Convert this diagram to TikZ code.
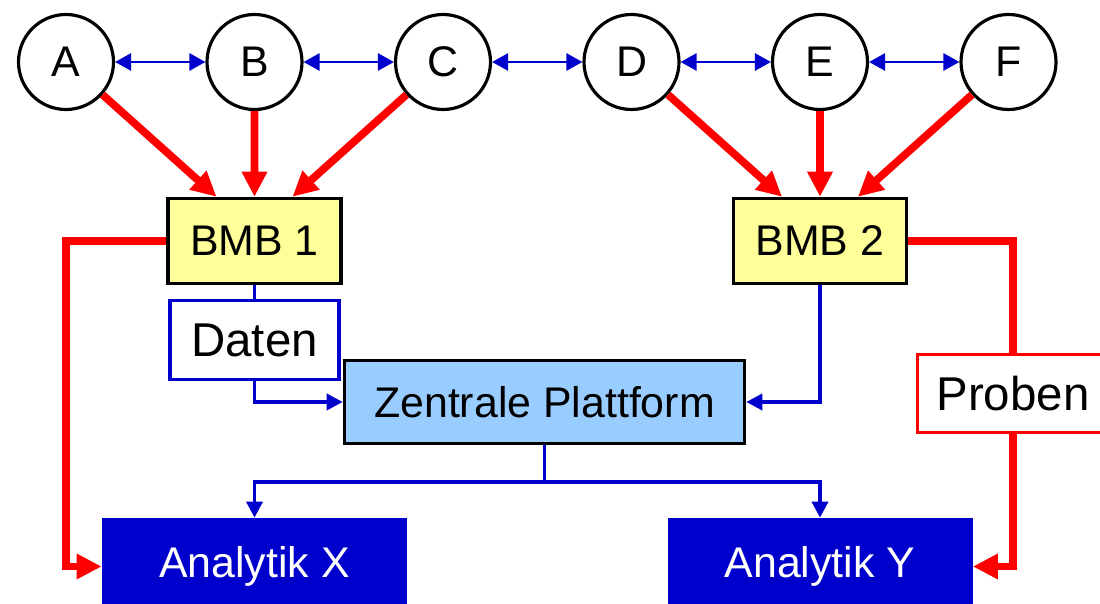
\documentclass[tikz,border=0pt]{standalone}
\usepackage{fontspec}
\setmainfont{Liberation Sans}
\usetikzlibrary{arrows.meta,scopes}

\definecolor{bmbyellow}{RGB}{255,255,153}
\definecolor{platblue}{RGB}{153,204,255}
\definecolor{darkblue}{RGB}{0,0,204}

\begin{document}
\begin{tikzpicture}[
    txt/.style={font=\fontsize{24.4}{28}\selectfont},
    bigtxt/.style={font=\fontsize{27}{32}\selectfont},
    site/.style={circle,draw=black,fill=white,line width=1.8pt,minimum size=1.9cm,inner sep=0,txt},
    bmb/.style={rectangle,draw=black,fill=bmbyellow,line width=2pt,minimum width=3.46cm,minimum height=1.7cm,txt},
    platform/.style={rectangle,draw=black,fill=platblue,line width=2pt,minimum width=8cm,minimum height=1.66cm,txt},
    lab/.style={rectangle,fill=darkblue,text=white,minimum width=6.1cm,minimum height=1.94cm,txt},
    tag/.style={rectangle,fill=white,line width=2pt,bigtxt},
    sample/.style={>={Triangle[length=0.5cm,width=0.48cm]},draw=red,line width=4.4pt},
    data/.style={>={Triangle[length=0.32cm,width=0.32cm]},draw=darkblue,line width=2pt},
    link/.style={>={Triangle[length=0.32cm,width=0.34cm]},draw=darkblue,line width=1.6pt},
]
    \useasboundingbox (0,0) rectangle (22,12.06);
    \foreach \n [count=\i from 0] in {A,B,C,D,E,F}
        \node[site] (\n) at ({1.32+3.77*\i},10.82) {\n};
    \node[bmb] (bmb1) at (5.09,7.24) {BMB 1};
    \node[bmb] (bmb2) at (16.40,7.24) {BMB 2};
    \node[tag,draw=darkblue,minimum width=3.38cm,minimum height=1.58cm] (daten) at (5.09,5.26) {Daten};
    \node[platform] (zentrale) at (10.89,4.02) {Zentrale Plattform};
    \node[tag,draw=red,minimum width=3.82cm,minimum height=1.56cm] (proben) at (20.26,4.19) {Proben};
    \node[lab] (anx) at (5.09,0.73) {Analytik X};
    \node[lab] (any) at (16.40,0.73) {Analytik Y};
    \coordinate (fork) at (10.89,2.42);

    % links between the sites
    {[link,<->]
        \foreach \a/\b in {A/B,B/C,C/D,D/E,E/F}
            \draw (\a) -- (\b);
    }
    % samples
    {[sample,->]
        \foreach \s/\d in {A/-0.76,B/0,C/0.76}
            \draw (\s) -- ([xshift=\d cm]bmb1.north);
        \foreach \s/\d in {D/-0.76,E/0,F/0.76}
            \draw (\s) -- ([xshift=\d cm]bmb2.north);
        \draw (bmb1) -| (A |- anx) -- (anx);
        \draw[-] (bmb2) -| (proben);
        \draw (proben) |- (any);
    }
    % data
    {[data,->]
        \draw[-] (bmb1) -- (daten);
        \draw (daten) |- (zentrale);
        \draw (bmb2) |- (zentrale);
        \draw (zentrale) -- (fork) -| (anx);
        \draw (fork) -| (any);
    }
\end{tikzpicture}
\end{document}
